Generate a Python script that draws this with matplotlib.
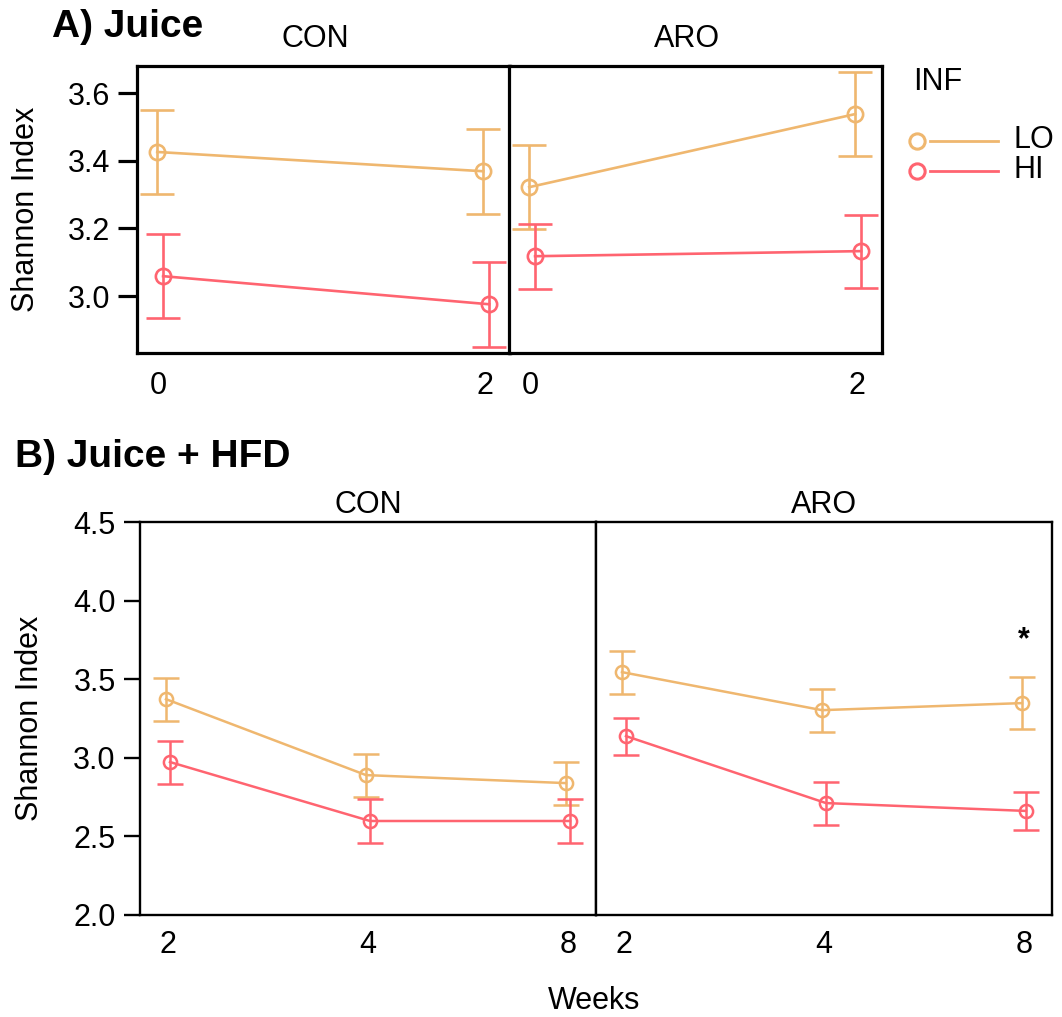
import matplotlib
matplotlib.use('Agg')
import matplotlib.pyplot as plt
from matplotlib.lines import Line2D

plt.rcParams['font.family'] = ['Liberation Sans', 'DejaVu Sans']

lo_col = '#EFB76F'
hi_col = '#FF6470'

# A) Juice, weeks 0 and 2
juice_weeks = ['0', '2']
juice_con_lo = [3.426, 3.369]
juice_con_lo_se = [0.125, 0.125]
juice_con_hi = [3.059, 2.976]
juice_con_hi_se = [0.124, 0.125]
juice_aro_lo = [3.322, 3.538]
juice_aro_lo_se = [0.124, 0.124]
juice_aro_hi = [3.118, 3.133]
juice_aro_hi_se = [0.096, 0.108]

# B) Juice + HFD, weeks 2, 4, 8
hfd_weeks = ['2', '4', '8']
hfd_con_lo = [3.373, 2.890, 2.839]
hfd_con_lo_se = [0.137, 0.137, 0.137]
hfd_con_hi = [2.973, 2.598, 2.598]
hfd_con_hi_se = [0.137, 0.140, 0.140]
hfd_aro_lo = [3.545, 3.303, 3.348]
hfd_aro_lo_se = [0.137, 0.137, 0.165]
hfd_aro_hi = [3.138, 2.712, 2.662]
hfd_aro_hi_se = [0.118, 0.137, 0.121]

W, H = 1062, 1017
fig = plt.figure(figsize=(W / 100, H / 100), dpi=100)


def px_axes(left, top, right, bottom):
    return fig.add_axes([left / W, 1 - bottom / H, (right - left) / W, (bottom - top) / H])


def fx(x):
    return x / W


def fy(y):
    return 1 - y / H


def draw(ax, labels, lo, lo_se, hi, hi_se, offs, lw, ms, cap):
    idx = range(len(labels))
    for vals, se, col, off in [(lo, lo_se, lo_col, offs[0]), (hi, hi_se, hi_col, offs[1])]:
        ax.errorbar([i + off for i in idx], vals, yerr=se, color=col, lw=lw,
                    marker='o', ms=ms, mfc='none', mew=lw, capsize=cap,
                    capthick=lw, elinewidth=lw)
    ax.set_xticks(list(idx))
    ax.set_xticklabels(labels)


def style(ax, spine_w, tick_len, show_y, xpad):
    for s in ax.spines.values():
        s.set_linewidth(spine_w)
    ax.tick_params(axis='x', length=0, pad=xpad, labelsize=22)
    if show_y:
        ax.tick_params(axis='y', length=tick_len, width=spine_w, pad=6, labelsize=22)
    else:
        ax.tick_params(axis='y', length=0, labelleft=False)


# panel A
a_con = px_axes(137, 66, 510, 353)
a_aro = px_axes(509, 66, 882, 353)
for ax, lo, lo_se, hi, hi_se, name in [
        (a_con, juice_con_lo, juice_con_lo_se, juice_con_hi, juice_con_hi_se, 'CON'),
        (a_aro, juice_aro_lo, juice_aro_lo_se, juice_aro_hi, juice_aro_hi_se, 'ARO')]:
    draw(ax, juice_weeks, lo, lo_se, hi, hi_se, (-0.004, 0.014), 1.9, 11, 12)
    ax.set_xlim(-0.066, 1.078)
    ax.set_ylim(2.832, 3.68)
    ax.set_yticks([3.0, 3.2, 3.4, 3.6])
    ax.set_yticklabels(['3.0', '3.2', '3.4', '3.6'])
    style(ax, 2.3, 13.5, ax is a_con, 13)
    ax.text(0.477, 1 + 27 / 287, name, transform=ax.transAxes, ha='center',
            va='center', fontsize=22)

# panel B
b_con = px_axes(140, 522, 596, 915)
b_aro = px_axes(596, 522, 1052, 915)
for ax, lo, lo_se, hi, hi_se, name in [
        (b_con, hfd_con_lo, hfd_con_lo_se, hfd_con_hi, hfd_con_hi_se, 'CON'),
        (b_aro, hfd_aro_lo, hfd_aro_lo_se, hfd_aro_hi, hfd_aro_hi_se, 'ARO')]:
    draw(ax, hfd_weeks, lo, lo_se, hi, hi_se, (-0.01, 0.01), 1.8, 9.5, 9.5)
    ax.set_xlim(-0.14, 2.14)
    ax.set_ylim(2.0, 4.5)
    ax.set_yticks([2.0, 2.5, 3.0, 3.5, 4.0, 4.5])
    ax.set_yticklabels(['2.0', '2.5', '3.0', '3.5', '4.0', '4.5'])
    style(ax, 1.7, 11.5, ax is b_con, 11)
    ax.text(0.5, 1 + 17 / 393, name, transform=ax.transAxes, ha='center',
            va='center', fontsize=22)

# significance mark over week 8, ARO
b_aro.text(2, 3.75, '*', ha='center', va='center', fontsize=22, fontweight='bold')

# panel titles and shared labels
fig.text(fx(52), fy(27), 'A) Juice', fontsize=28, fontweight='bold', ha='left', va='center')
fig.text(fx(15), fy(457), 'B) Juice + HFD', fontsize=28, fontweight='bold', ha='left', va='center')
fig.text(fx(26), fy(209), 'Shannon Index', fontsize=22, rotation=90, ha='center', va='center')
fig.text(fx(30), fy(718), 'Shannon Index', fontsize=22, rotation=90, ha='center', va='center')
fig.text(fx(594), fy(1001), 'Weeks', fontsize=22, ha='center', va='center')

# legend for infection level
fig.text(fx(913), fy(82), 'INF', fontsize=22, ha='left', va='center')
for y, col, lab in [(141, lo_col, 'LO'), (171, hi_col, 'HI')]:
    fig.add_artist(Line2D([fx(930), fx(998)], [fy(y), fy(y)], color=col, lw=2))
    fig.add_artist(Line2D([fx(917)], [fy(y)], color=col, marker='o', ms=11,
                          mfc='none', mew=2.2, lw=0))
    fig.text(fx(1014), fy(y - 1), lab, fontsize=22, ha='left', va='center')

fig.savefig('out.png', dpi=100)
